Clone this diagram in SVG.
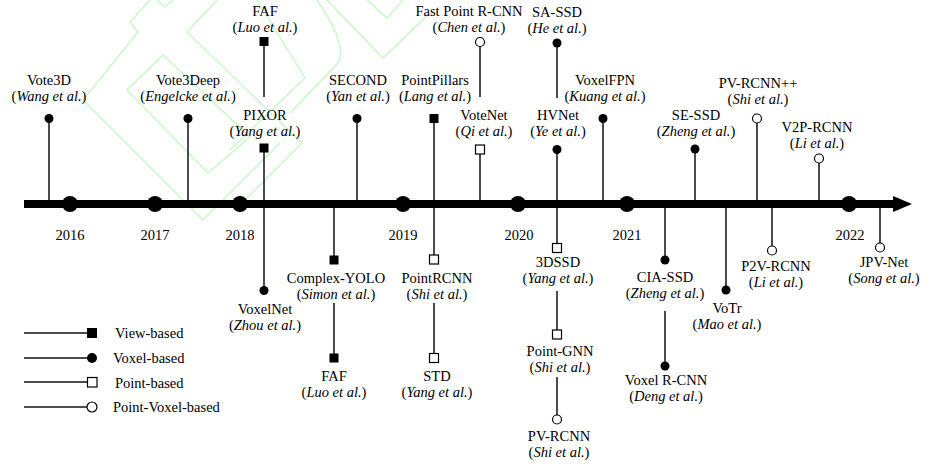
<svg xmlns="http://www.w3.org/2000/svg" width="940" height="470" viewBox="0 0 940 470" font-family="Liberation Serif">
<style>
text{font-family:'Liberation Serif';font-size:14.5px;fill:#000;text-anchor:middle}
.i{font-style:italic}
.lg{text-anchor:start}
.st{stroke:#111;stroke-width:1.5;fill:none}
.wm{stroke:#c8f7c8;stroke-width:1.4;fill:none}
.fill{fill:#000}
.open{fill:#fff;stroke:#000;stroke-width:1.2}
</style>
<rect width="940" height="470" fill="#fff"/>
<g id="watermark">
<path class="wm" d="M150,0 L130,22 L138,32 L83,100 L203,220 L280,143"/>
<path class="wm" d="M127,90 L163,55 L250,137 L208,173 Z"/>
<path class="wm" d="M217,0 L187,32 L302,143 L240,205"/>
<path class="wm" d="M257,0 L305,78 L230,150"/>
<path class="wm" d="M317,0 Q348,45 338,63 L290,113"/>
<path class="wm" d="M327,0 L383,58 L430,13"/>
<path class="wm" d="M367,0 L387,18 L403,0"/>
<path class="wm" d="M157,0 L165,7 L173,0"/>
</g>
<g id="connectors">
<line class="st" x1="49" y1="118" x2="49" y2="204"/>
<line class="st" x1="188" y1="118" x2="188" y2="204"/>
<line class="st" x1="264" y1="42" x2="264" y2="97"/>
<line class="st" x1="264" y1="148" x2="264" y2="290"/>
<line class="st" x1="357" y1="118" x2="357" y2="204"/>
<line class="st" x1="334" y1="204" x2="334" y2="260"/>
<line class="st" x1="334" y1="303" x2="334" y2="358"/>
<line class="st" x1="434" y1="118" x2="434" y2="259"/>
<line class="st" x1="434" y1="303" x2="434" y2="358"/>
<line class="st" x1="480" y1="42" x2="480" y2="97"/>
<line class="st" x1="480" y1="149" x2="480" y2="204"/>
<line class="st" x1="557" y1="43" x2="557" y2="98"/>
<line class="st" x1="557" y1="149" x2="557" y2="248"/>
<line class="st" x1="557" y1="291" x2="557" y2="334"/>
<line class="st" x1="557" y1="377" x2="557" y2="419"/>
<line class="st" x1="603" y1="118" x2="603" y2="204"/>
<line class="st" x1="665" y1="204" x2="665" y2="260"/>
<line class="st" x1="665" y1="311" x2="665" y2="366"/>
<line class="st" x1="695" y1="149" x2="695" y2="204"/>
<line class="st" x1="726" y1="204" x2="726" y2="290"/>
<line class="st" x1="757" y1="118" x2="757" y2="204"/>
<line class="st" x1="772" y1="204" x2="772" y2="250"/>
<line class="st" x1="819" y1="158" x2="819" y2="204"/>
<line class="st" x1="880" y1="204" x2="880" y2="247"/>
</g>
<g id="axis">
<line x1="24" y1="204" x2="896" y2="204" stroke="#000" stroke-width="8"/>
<polygon points="893,196 912,204 893,212" fill="#000"/>
<circle cx="70" cy="204" r="8" fill="#000"/>
<circle cx="155" cy="204" r="8" fill="#000"/>
<circle cx="240" cy="204" r="8" fill="#000"/>
<circle cx="403" cy="204" r="8" fill="#000"/>
<circle cx="518" cy="204" r="8" fill="#000"/>
<circle cx="627" cy="204" r="8" fill="#000"/>
<circle cx="849" cy="204" r="8" fill="#000"/>
<text x="70" y="240">2016</text>
<text x="155" y="240">2017</text>
<text x="240" y="240">2018</text>
<text x="403" y="240">2019</text>
<text x="519" y="240">2020</text>
<text x="627" y="240">2021</text>
<text x="850" y="240">2022</text>
</g>
<g id="vote3d"><circle class="fill" cx="49" cy="118.5" r="4.5"/><text><tspan x="49" y="85">Vote3D</tspan><tspan x="49" y="101">(<tspan class="i">Wang et al.</tspan>)</tspan></text></g>
<g id="vote3deep"><circle class="fill" cx="188" cy="118.5" r="4.5"/><text><tspan x="188" y="85">Vote3Deep</tspan><tspan x="188" y="101">(<tspan class="i">Engelcke et al.</tspan>)</tspan></text></g>
<g id="faf-top"><rect class="fill" x="259.5" y="37" width="9" height="9"/><text><tspan x="265" y="16">FAF</tspan><tspan x="265" y="32">(<tspan class="i">Luo et al.</tspan>)</tspan></text></g>
<g id="pixor"><rect class="fill" x="259.5" y="143.5" width="9" height="9"/><text><tspan x="265" y="119.5">PIXOR</tspan><tspan x="265" y="135.5">(<tspan class="i">Yang et al.</tspan>)</tspan></text></g>
<g id="voxelnet"><circle class="fill" cx="264" cy="290.5" r="4.5"/><text><tspan x="265" y="314">VoxelNet</tspan><tspan x="265" y="330">(<tspan class="i">Zhou et al.</tspan>)</tspan></text></g>
<g id="second"><circle class="fill" cx="357" cy="118.5" r="4.5"/><text><tspan x="358" y="85">SECOND</tspan><tspan x="358" y="101">(<tspan class="i">Yan et al.</tspan>)</tspan></text></g>
<g id="complex-yolo"><rect class="fill" x="329.5" y="255.5" width="9" height="9"/><text><tspan x="336" y="283">Complex-YOLO</tspan><tspan x="336" y="299">(<tspan class="i">Simon et al.</tspan>)</tspan></text></g>
<g id="faf-bottom"><rect class="fill" x="329.5" y="353.5" width="9" height="9"/><text><tspan x="334" y="381">FAF</tspan><tspan x="334" y="397">(<tspan class="i">Luo et al.</tspan>)</tspan></text></g>
<g id="pointpillars"><rect class="fill" x="429.5" y="114" width="9" height="9"/><text><tspan x="435" y="85">PointPillars</tspan><tspan x="435" y="101">(<tspan class="i">Lang et al.</tspan>)</tspan></text></g>
<g id="pointrcnn"><rect class="open" x="429.5" y="255" width="9" height="9"/><text><tspan x="437" y="283">PointRCNN</tspan><tspan x="437" y="299">(<tspan class="i">Shi et al.</tspan>)</tspan></text></g>
<g id="std"><rect class="open" x="429.5" y="353.5" width="9" height="9"/><text><tspan x="437" y="381">STD</tspan><tspan x="437" y="397">(<tspan class="i">Yang et al.</tspan>)</tspan></text></g>
<g id="fast-point-rcnn"><circle class="open" cx="480" cy="42" r="4.5"/><text><tspan x="469" y="16">Fast Point R-CNN</tspan><tspan x="469" y="32">(<tspan class="i">Chen et al.</tspan>)</tspan></text></g>
<g id="votenet"><rect class="open" x="475.5" y="145" width="9" height="9"/><text><tspan x="484" y="119.5">VoteNet</tspan><tspan x="484" y="135.5">(<tspan class="i">Qi et al.</tspan>)</tspan></text></g>
<g id="sa-ssd"><circle class="fill" cx="557" cy="43" r="4.5"/><text><tspan x="557" y="17">SA-SSD</tspan><tspan x="557" y="33">(<tspan class="i">He et al.</tspan>)</tspan></text></g>
<g id="hvnet"><circle class="fill" cx="557" cy="149.5" r="4.5"/><text><tspan x="558" y="119.5">HVNet</tspan><tspan x="558" y="135.5">(<tspan class="i">Ye et al.</tspan>)</tspan></text></g>
<g id="3dssd"><rect class="open" x="552.5" y="243.5" width="9" height="9"/><text><tspan x="558" y="267">3DSSD</tspan><tspan x="558" y="283">(<tspan class="i">Yang et al.</tspan>)</tspan></text></g>
<g id="point-gnn"><rect class="open" x="552.5" y="330" width="9" height="9"/><text><tspan x="560" y="356">Point-GNN</tspan><tspan x="560" y="372">(<tspan class="i">Shi et al.</tspan>)</tspan></text></g>
<g id="pv-rcnn"><circle class="open" cx="557" cy="419.5" r="4.5"/><text><tspan x="559" y="441">PV-RCNN</tspan><tspan x="559" y="457">(<tspan class="i">Shi et al.</tspan>)</tspan></text></g>
<g id="voxelfpn"><circle class="fill" cx="603" cy="118.5" r="4.5"/><text><tspan x="605" y="85">VoxelFPN</tspan><tspan x="605" y="101">(<tspan class="i">Kuang et al.</tspan>)</tspan></text></g>
<g id="cia-ssd"><circle class="fill" cx="665" cy="260" r="4.5"/><text><tspan x="665" y="282">CIA-SSD</tspan><tspan x="665" y="298">(<tspan class="i">Zheng et al.</tspan>)</tspan></text></g>
<g id="voxel-rcnn"><circle class="fill" cx="665" cy="366" r="4.5"/><text><tspan x="666" y="385">Voxel R-CNN</tspan><tspan x="666" y="401">(<tspan class="i">Deng et al.</tspan>)</tspan></text></g>
<g id="se-ssd"><circle class="fill" cx="695" cy="149" r="4.5"/><text><tspan x="696" y="119.5">SE-SSD</tspan><tspan x="696" y="135.5">(<tspan class="i">Zheng et al.</tspan>)</tspan></text></g>
<g id="votr"><circle class="fill" cx="726" cy="290" r="4.5"/><text><tspan x="727" y="313">VoTr</tspan><tspan x="727" y="329">(<tspan class="i">Mao et al.</tspan>)</tspan></text></g>
<g id="pv-rcnn-pp"><circle class="open" cx="757" cy="118.5" r="4.5"/><text><tspan x="758" y="88">PV-RCNN++</tspan><tspan x="758" y="104">(<tspan class="i">Shi et al.</tspan>)</tspan></text></g>
<g id="p2v-rcnn"><circle class="open" cx="772" cy="250.5" r="4.5"/><text><tspan x="776" y="271">P2V-RCNN</tspan><tspan x="776" y="287">(<tspan class="i">Li et al.</tspan>)</tspan></text></g>
<g id="v2p-rcnn"><circle class="open" cx="819" cy="158.5" r="4.5"/><text><tspan x="817" y="132">V2P-RCNN</tspan><tspan x="817" y="148">(<tspan class="i">Li et al.</tspan>)</tspan></text></g>
<g id="jpv-net"><circle class="open" cx="880" cy="247.5" r="4.5"/><text><tspan x="884" y="267">JPV-Net</tspan><tspan x="884" y="283">(<tspan class="i">Song et al.</tspan>)</tspan></text></g>
<g id="legend">
<line class="st" x1="24" y1="333" x2="88" y2="333"/>
<rect class="fill" x="87" y="328" width="10" height="10"/>
<text class="lg" x="115" y="338">View-based</text>
<line class="st" x1="24" y1="358" x2="88" y2="358"/>
<circle class="fill" cx="92" cy="358" r="5"/>
<text class="lg" x="113" y="363">Voxel-based</text>
<line class="st" x1="24" y1="382" x2="87" y2="382"/>
<rect class="open" x="87.5" y="377.5" width="9.5" height="9.5"/>
<text class="lg" x="115" y="387.5">Point-based</text>
<line class="st" x1="24" y1="407" x2="87" y2="407"/>
<circle class="open" cx="92" cy="407" r="5"/>
<text class="lg" x="113" y="412">Point-Voxel-based</text>
</g>
</svg>
